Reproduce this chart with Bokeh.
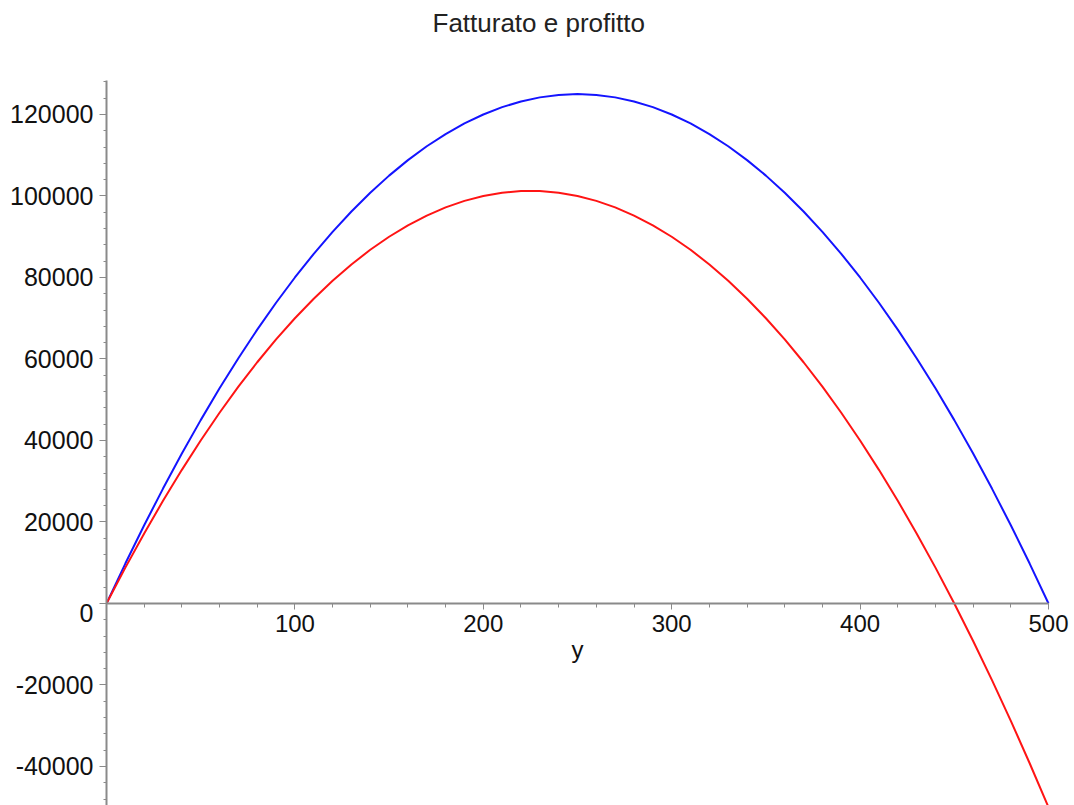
from bokeh.plotting import figure
from bokeh.models import FixedTicker, Range1d, Label
from bokeh.embed import file_html
from bokeh.resources import INLINE

# ---- data ----
quantita = [0, 10, 20, 30, 40, 50, 60, 70, 80, 90,
            100, 110, 120, 130, 140, 150, 160, 170, 180, 190,
            200, 210, 220, 230, 240, 250, 260, 270, 280, 290,
            300, 310, 320, 330, 340, 350, 360, 370, 380, 390,
            400, 410, 420, 430, 440, 450, 460, 470, 480, 490, 500]

fatturato = [0, 9800, 19200, 28200, 36800, 45000, 52800, 60200, 67200, 73800,
             80000, 85800, 91200, 96200, 100800, 105000, 108800, 112200, 115200, 117800,
             120000, 121800, 123200, 124200, 124800, 125000, 124800, 124200, 123200, 121800,
             120000, 117800, 115200, 112200, 108800, 105000, 100800, 96200, 91200, 85800,
             80000, 73800, 67200, 60200, 52800, 45000, 36800, 28200, 19200, 9800, 0]

profitto = [0, 8800, 17200, 25200, 32800, 40000, 46800, 53200, 59200, 64800,
            70000, 74800, 79200, 83200, 86800, 90000, 92800, 95200, 97200, 98800,
            100000, 100800, 101200, 101200, 100800, 100000, 98800, 97200, 95200, 92800,
            90000, 86800, 83200, 79200, 74800, 70000, 64800, 59200, 53200, 46800,
            40000, 32800, 25200, 17200, 8800, 0, -9200, -18800, -28800, -39200, -50000]

x_ticks = [100, 200, 300, 400, 500]
y_ticks = [-40000, -20000, 0, 20000, 40000, 60000, 80000, 100000, 120000]
y_tick_labels = ["-40000", "-20000", "\n0", "20000", "40000", "60000",
                 "80000", "100000", "120000"]
title_text = "Fatturato e profitto"
x_label = "y"

FONT = "Liberation Sans"
AXIS_COLOR = "#8a8a8a"
TEXT_COLOR = "#111111"

# visible extent of the axes (the frame itself covers the whole canvas height)
X_AXIS_BOUNDS = (0, 500)
Y_AXIS_BOUNDS = (-49571, 128344)

p = figure(width=1074, height=805,
           x_range=Range1d(0, 513.8), y_range=Range1d(-49571, 147975),
           output_backend="svg", toolbar_location=None,
           min_border_left=106, min_border_right=0,
           min_border_top=0, min_border_bottom=0)

p.xgrid.visible = False
p.ygrid.visible = False
p.outline_line_color = None
p.background_fill_color = "white"
p.border_fill_color = "white"

# x axis crossing at y = 0
xa = p.xaxis[0]
xa.fixed_location = 0
xa.bounds = X_AXIS_BOUNDS
xa.ticker = FixedTicker(ticks=x_ticks,
                        minor_ticks=[v for v in range(20, 501, 20) if v % 100 != 0])
xa.axis_line_color = AXIS_COLOR
xa.axis_line_width = 2
xa.major_tick_line_color = AXIS_COLOR
xa.minor_tick_line_color = AXIS_COLOR
xa.major_tick_in = 0
xa.major_tick_out = 6
xa.minor_tick_in = 0
xa.minor_tick_out = 4
xa.major_label_standoff = 6
xa.major_label_text_font = FONT
xa.major_label_text_font_size = "24px"
xa.major_label_text_color = TEXT_COLOR
xa.axis_label = x_label
xa.axis_label_text_font = FONT
xa.axis_label_text_font_size = "24px"
xa.axis_label_text_font_style = "normal"
xa.axis_label_text_color = TEXT_COLOR
xa.axis_label_standoff = 0

ya = p.yaxis[0]
ya.bounds = Y_AXIS_BOUNDS
ya.ticker = FixedTicker(ticks=y_ticks,
                        minor_ticks=[v for v in range(-48000, 128001, 4000) if v % 20000 != 0])
ya.axis_line_color = AXIS_COLOR
ya.axis_line_width = 2
ya.major_tick_line_color = AXIS_COLOR
ya.minor_tick_line_color = AXIS_COLOR
ya.major_tick_in = 0
ya.major_tick_out = 7
ya.minor_tick_in = 0
ya.minor_tick_out = 3
ya.major_label_standoff = 6
ya.major_label_text_font = FONT
ya.major_label_text_font_size = "25px"
ya.major_label_text_color = TEXT_COLOR
ya.major_label_text_line_height = 0.7
ya.major_label_overrides = dict(zip(y_ticks, y_tick_labels))

# chart title, placed in screen space near the top of the canvas
title = Label(x=326, y=783, x_units="screen", y_units="screen",
              text=title_text, text_font=FONT, text_font_size="26px",
              text_color="#222222", text_align="left", text_baseline="alphabetic")
p.add_layout(title)

p.line(quantita, fatturato, line_color="#1414ff", line_width=2)
p.line(quantita, profitto, line_color="#ff1414", line_width=2)

open("out.html", "w").write(file_html(p, INLINE))
